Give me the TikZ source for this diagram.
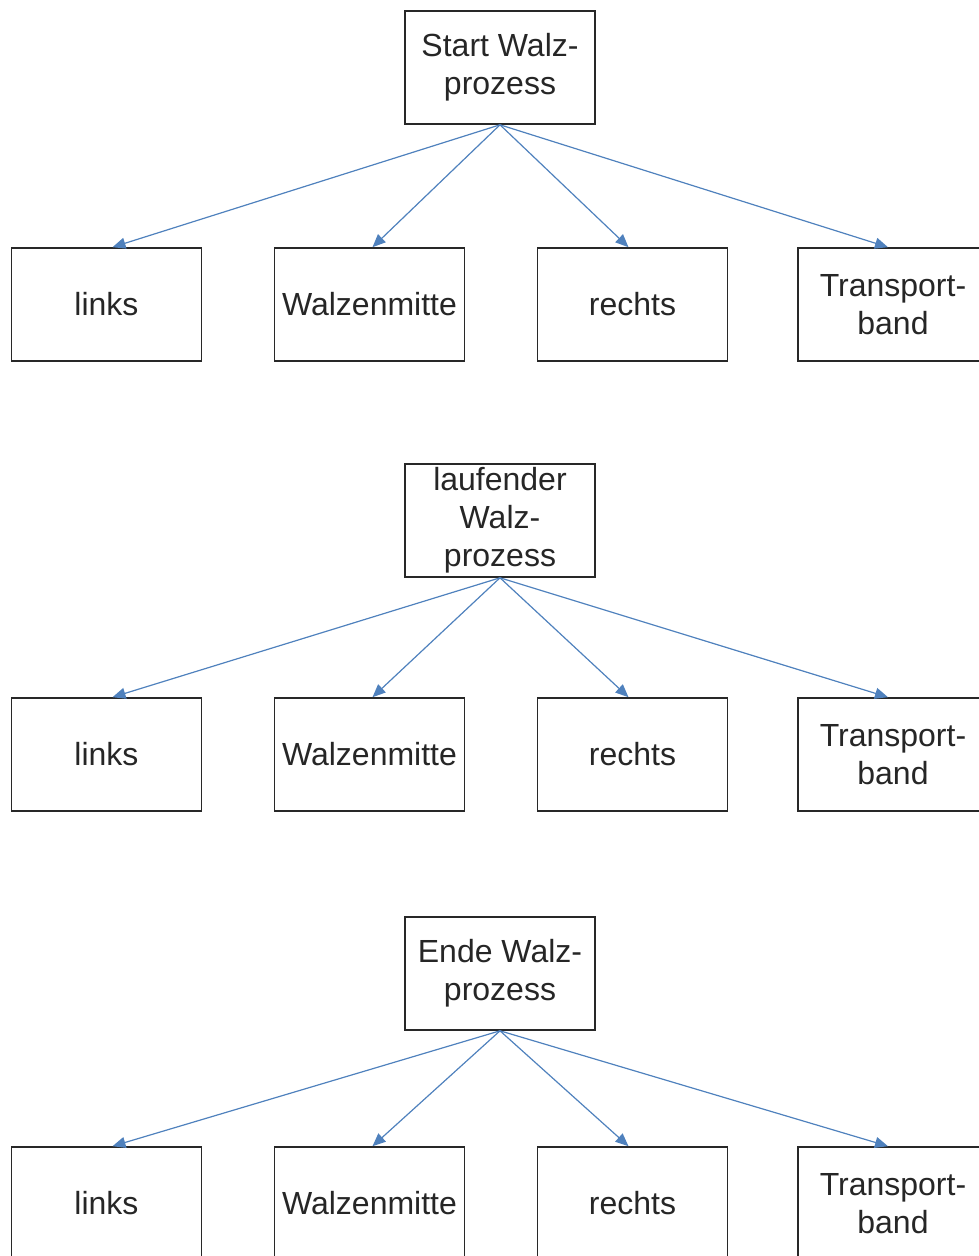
\documentclass[tikz,border=0pt]{standalone}
\usepackage{fontspec}
\setmainfont{Liberation Sans}
\usetikzlibrary{arrows.meta}
\definecolor{arrblue}{RGB}{79,129,189}
\definecolor{boxline}{RGB}{40,40,40}
\begin{document}
\begin{tikzpicture}[x=1pt,y=-1pt,
  box/.style={draw=boxline,line width=1.6pt,minimum width=190pt,minimum height=113pt,inner sep=0pt,align=center,font=\fontsize{32}{38}\selectfont,text=black!85},
  arr/.style={draw=arrblue,line width=1.2pt,-{Triangle[length=13pt,width=11pt]}}]
\useasboundingbox (0,0) rectangle (979,1256);
\clip (0,0) rectangle (979,1256);
\foreach \r/\py/\cy/\lab in {1/67.5/304.5/{Start Walz-\\prozess}, 2/520.5/754.5/{laufender\\Walz-\\prozess}, 3/973.5/1203.5/{Ende Walz-\\prozess}}{
  \node[box] (p\r) at (500,\py) {\lab};
  \node[box] (a\r) at (106.5,\cy) {links};
  \node[box] (b\r) at (369.5,\cy) {Walzenmitte};
  \node[box] (c\r) at (632.5,\cy) {rechts};
  \node[box] (d\r) at (893,\cy) {Transport-\\band};
  \draw[arr] (p\r.south) -- ([xshift=6pt]a\r.north);
  \draw[arr] (p\r.south) -- ([xshift=3pt]b\r.north);
  \draw[arr] (p\r.south) -- ([xshift=-4pt]c\r.north);
  \draw[arr] (p\r.south) -- ([xshift=-5pt]d\r.north);
}
\end{tikzpicture}
\end{document}
